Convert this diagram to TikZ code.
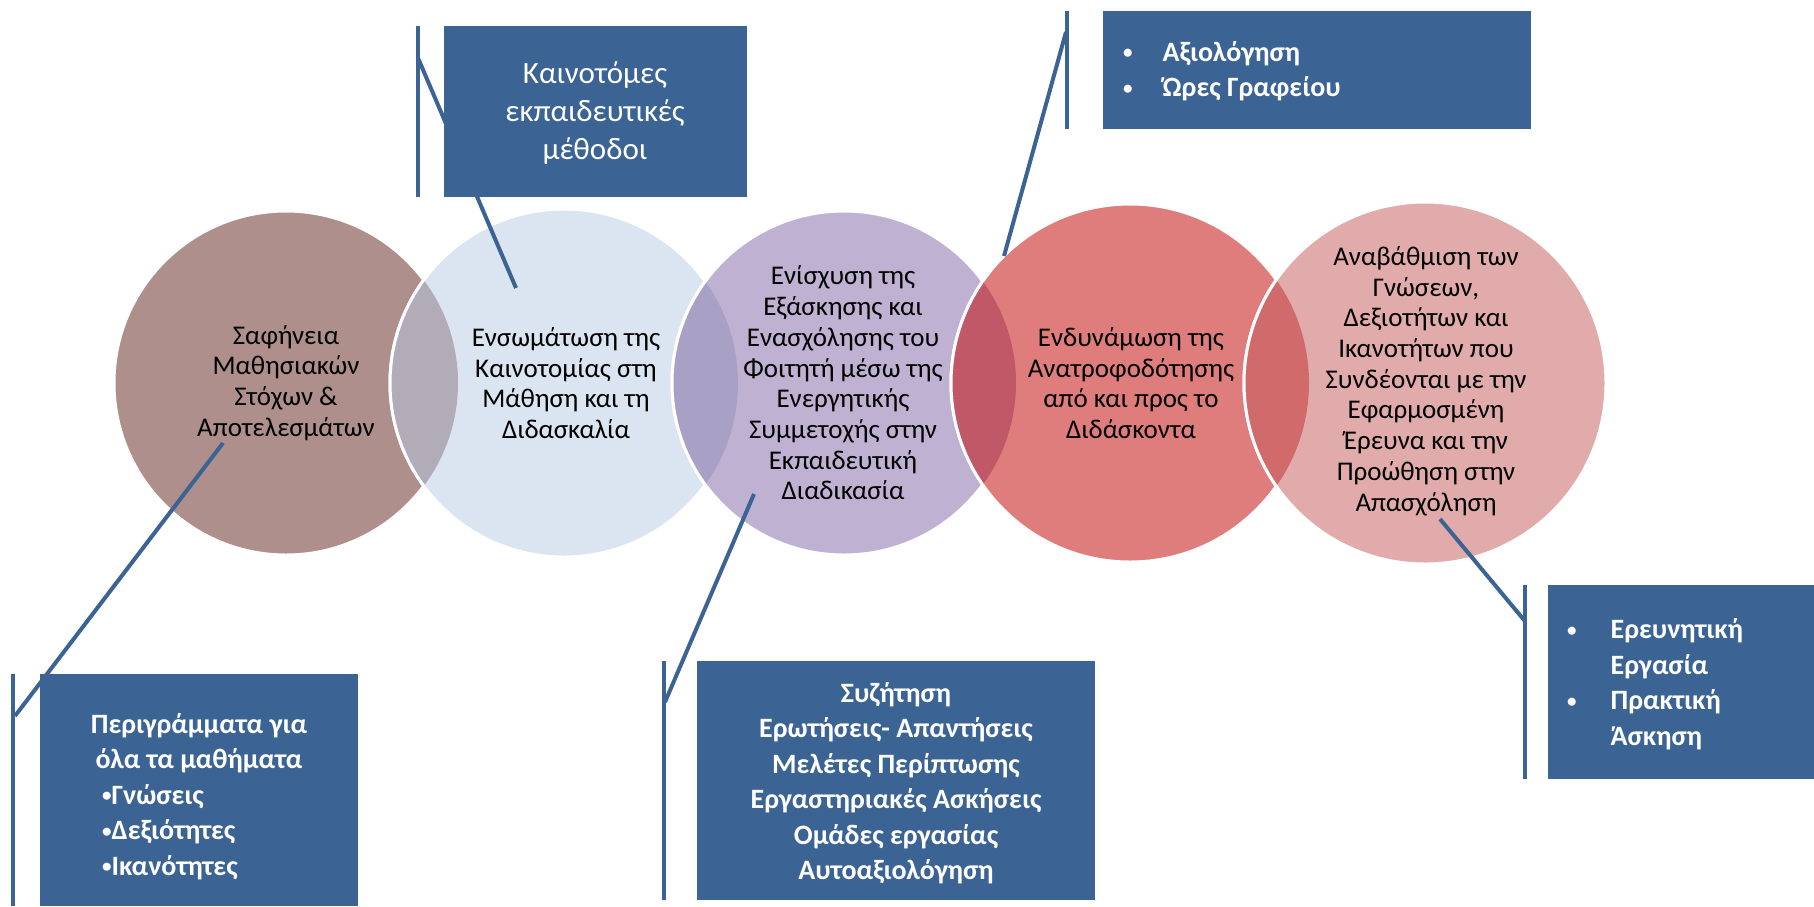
\documentclass[tikz,border=0pt]{standalone}
\usepackage{fontspec}
\setmainfont{Carlito}
\definecolor{boxblue}{HTML}{3B6494}
\definecolor{cone}{HTML}{AF8F8B}
\definecolor{ctwo}{HTML}{DBE5F1}
\definecolor{cthree}{HTML}{BFB1D2}
\definecolor{cfour}{HTML}{DF7D7D}
\definecolor{cfive}{HTML}{E2ABAB}
\definecolor{ovA}{HTML}{B2ACB8}
\definecolor{ovB}{HTML}{A9A0C6}
\definecolor{ovC}{HTML}{C05868}
\definecolor{ovD}{HTML}{D16A6A}
\newcommand{\sbul}{\raisebox{2.5pt}{\fontsize{19}{19}\selectfont •}}
\tikzset{
  conn/.style={draw=boxblue, line width=4pt},
  barline/.style={draw=boxblue, line width=4pt},
  boxfill/.style={fill=boxblue, draw=none, inner sep=0pt, anchor=north west},
  ctext/.style={align=center, font=\fontsize{27}{30.7}\selectfont, text=black, inner sep=0pt},
  btext/.style={align=center, font=\bfseries\fontsize{28}{35.5}\selectfont, text=white, inner sep=0pt},
  ring/.style={draw=white, line width=3pt},
}
\begin{document}
\begin{tikzpicture}[x=1pt,y=-1pt]
\useasboundingbox (0,0) rectangle (1814,906);
\clip (0,0) rectangle (1814,906);
% circles
\path[fill=cone, ring] (286,383) circle[radius=172pt];
\path[fill=ctwo, ring] (564,383) circle[radius=174pt];
\begin{scope}
  \clip (286,383) circle[radius=172pt];
  \path[fill=ovA, ring] (564,383) circle[radius=174pt];
\end{scope}
\path[fill=cthree, ring] (844,383) circle[radius=172pt];
\begin{scope}
  \clip (564,383) circle[radius=174pt];
  \path[fill=ovB, ring] (844,383) circle[radius=172pt];
\end{scope}
\path[fill=cfour, ring] (1130,383) circle[radius=179pt];
\begin{scope}
  \clip (844,383) circle[radius=172pt];
  \path[fill=ovC, ring] (1130,383) circle[radius=179pt];
\end{scope}
\path[fill=cfive, ring] (1425,383) circle[radius=181pt];
\begin{scope}
  \clip (1130,383) circle[radius=179pt];
  \path[fill=ovD, ring] (1425,383) circle[radius=181pt];
\end{scope}
% circle texts
\node[ctext] (t1) at (286,383) {Σαφήνεια\\Μαθησιακών\\Στόχων \&\\Αποτελεσμάτων};
\node[ctext] (t2) at (566,383) {Ενσωμάτωση της\\Καινοτομίας στη\\Μάθηση και τη\\Διδασκαλία};
\node[ctext] (t3) at (843,383) {Ενίσχυση της\\Εξάσκησης και\\Ενασχόλησης του\\Φοιτητή μέσω της\\Ενεργητικής\\Συμμετοχής στην\\Εκπαιδευτική\\Διαδικασία};
\node[ctext] (t4) at (1131,383) {Ενδυνάμωση της\\Ανατροφοδότησης\\από και προς το\\Διδάσκοντα};
\node[ctext] (t5) at (1426,381) {Αναβάθμιση των\\Γνώσεων,\\Δεξιοτήτων και\\Ικανοτήτων που\\Συνδέονται με την\\Εφαρμοσμένη\\Έρευνα και την\\Προώθηση στην\\Απασχόληση};
% boxes
\node[boxfill, minimum width=318pt, minimum height=232pt] (box1) at (40,674) {};
\node[boxfill, minimum width=303pt, minimum height=171pt] (box2) at (444,26) {};
\node[boxfill, minimum width=398pt, minimum height=239pt] (box3) at (697,661) {};
\node[boxfill, minimum width=428pt, minimum height=118pt] (box4) at (1103,11) {};
\node[boxfill, minimum width=266pt, minimum height=194pt] (box5) at (1548,585) {};
% box texts
\node[btext] (h1) at (199,743) {Περιγράμματα για\\όλα τα μαθήματα};
\node[btext, align=left, anchor=west] (l1) at (102,832) {\sbul Γνώσεις\\\sbul Δεξιότητες\\\sbul Ικανότητες};
\node[align=center, font=\fontsize{31}{38}\selectfont, text=white, inner sep=0pt] (h2) at (595,113) {Καινοτόμες\\εκπαιδευτικές\\μέθοδοι};
\node[btext] (h3) at (896,783) {Συζήτηση\\Ερωτήσεις- Απαντήσεις\\Μελέτες Περίπτωσης\\Εργαστηριακές Ασκήσεις\\Ομάδες εργασίας\\Αυτοαξιολόγηση};
\node[btext, align=left, anchor=west] (h4) at (1123,72) {\begin{tabular}{@{}l@{\hspace{30pt}}l@{}}\sbul&Αξιολόγηση\\\sbul&Ώρες Γραφείου\end{tabular}};
\node[btext, align=left, anchor=west] (h5) at (1567,685) {\begin{tabular}{@{}l@{\hspace{34pt}}l@{}}\sbul&Ερευνητική\\&Εργασία\\\sbul&Πρακτική\\&Άσκηση\end{tabular}};
% callout coordinates
\coordinate (p1) at (223,443);
\coordinate (j1) at (15,716);
\coordinate (b1t) at (13,674);
\coordinate (b1b) at (13,906);
\coordinate (p2) at (516,288);
\coordinate (j2) at (418,58);
\coordinate (b2t) at (418,26);
\coordinate (b2b) at (418,197);
\coordinate (p3) at (754,494);
\coordinate (j3) at (665,702);
\coordinate (b3t) at (664,661);
\coordinate (b3b) at (664,900);
\coordinate (p4) at (1004,256);
\coordinate (j4) at (1066,32);
\coordinate (b4t) at (1067,11);
\coordinate (b4b) at (1067,129);
\coordinate (p5) at (1440,519);
\coordinate (j5) at (1524,620);
\coordinate (b5t) at (1525,585);
\coordinate (b5b) at (1525,779);
% bars and connectors
\draw[barline] (b1t) -- (b1b);
\draw[conn] (p1) -- (j1);
\draw[barline] (b2t) -- (b2b);
\draw[conn] (p2) -- (j2);
\draw[barline] (b3t) -- (b3b);
\draw[conn] (p3) -- (j3);
\draw[barline] (b4t) -- (b4b);
\draw[conn] (p4) -- (j4);
\draw[barline] (b5t) -- (b5b);
\draw[conn] (p5) -- (j5);
\end{tikzpicture}
\end{document}
